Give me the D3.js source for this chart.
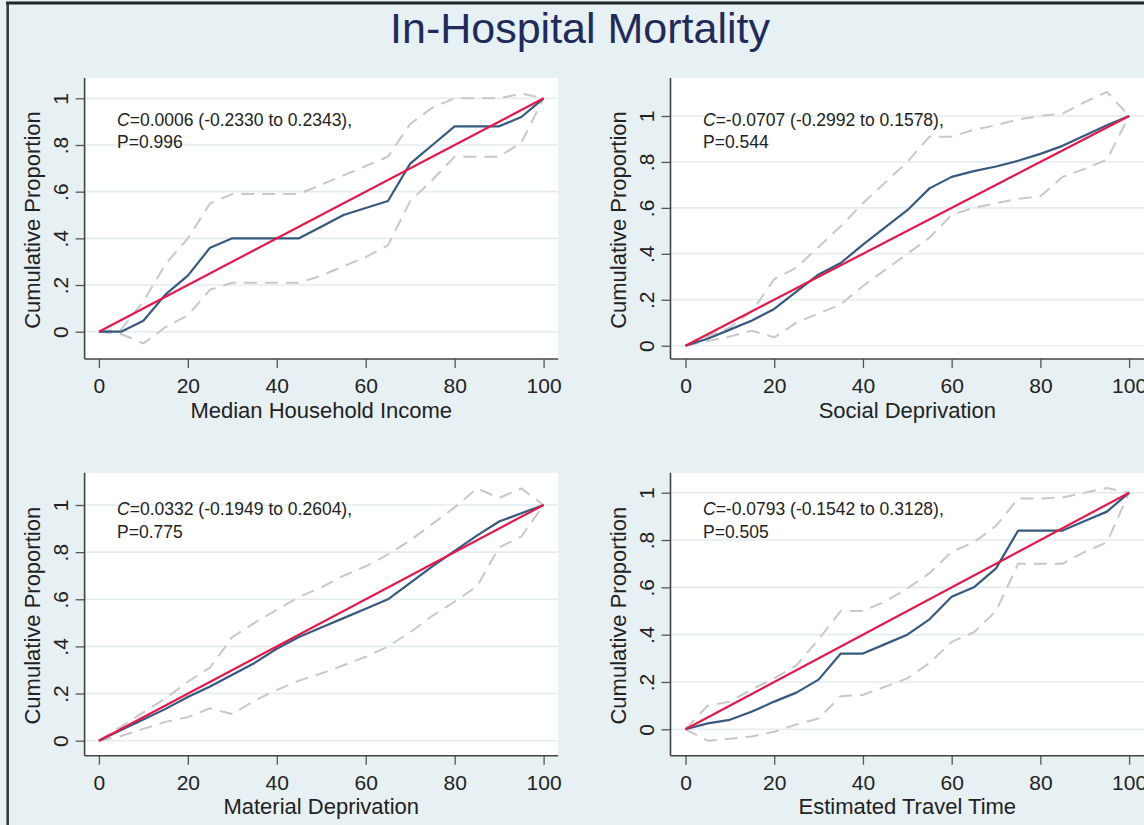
<!DOCTYPE html>
<html>
<head>
<meta charset="utf-8">
<script src="https://cdn.jsdelivr.net/npm/d3@7"></script>
<style>
  html, body { margin: 0; padding: 0; background: #e7f0f2; }
  svg { display: block; font-family: "Liberation Sans", Arial, sans-serif; }
</style>
</head>
<body>
<div id="chart"></div>
<script>
// Percentile points (x axis) shared by all four panels
const xPct = [0, 5, 10, 15, 20, 25, 30, 35, 40, 45, 50, 55, 60, 65, 70, 75, 80, 85, 90, 95, 100];

// Median household income
const incomeObs   = [0, 0, 0.047, 0.16, 0.24, 0.36, 0.40, 0.40, 0.40, 0.40, 0.45, 0.50, 0.53, 0.56, 0.72, 0.80, 0.88, 0.88, 0.88, 0.92, 1.0];
const incomeUpper = [0, 0.01, 0.13, 0.29, 0.40, 0.55, 0.59, 0.59, 0.59, 0.59, 0.63, 0.67, 0.71, 0.75, 0.89, 0.96, 1.0, 1.0, 1.0, 1.02, 1.0];
const incomeLower = [0, -0.01, -0.05, 0.02, 0.07, 0.18, 0.21, 0.21, 0.21, 0.21, 0.24, 0.28, 0.32, 0.37, 0.56, 0.65, 0.75, 0.75, 0.75, 0.81, 1.0];

// Social deprivation
const socialObs   = [0, 0.03, 0.07, 0.11, 0.16, 0.235, 0.31, 0.36, 0.44, 0.515, 0.59, 0.685, 0.735, 0.76, 0.78, 0.805, 0.835, 0.87, 0.915, 0.96, 1.0];
const socialUpper = [0, 0.04, 0.08, 0.15, 0.29, 0.34, 0.43, 0.52, 0.62, 0.71, 0.80, 0.91, 0.91, 0.94, 0.96, 0.985, 1.0, 1.01, 1.06, 1.105, 1.0];
const socialLower = [0, 0.02, 0.04, 0.065, 0.036, 0.10, 0.14, 0.18, 0.26, 0.33, 0.40, 0.47, 0.57, 0.60, 0.62, 0.64, 0.65, 0.735, 0.77, 0.81, 1.0];

// Material deprivation
const materialObs   = [0, 0.045, 0.09, 0.135, 0.185, 0.23, 0.28, 0.33, 0.39, 0.44, 0.48, 0.52, 0.56, 0.60, 0.67, 0.74, 0.805, 0.87, 0.93, 0.965, 1.0];
const materialUpper = [0, 0.06, 0.12, 0.18, 0.25, 0.31, 0.44, 0.50, 0.555, 0.61, 0.65, 0.70, 0.74, 0.79, 0.85, 0.92, 0.99, 1.07, 1.03, 1.07, 1.0];
const materialLower = [0, 0.02, 0.05, 0.08, 0.10, 0.137, 0.113, 0.17, 0.215, 0.255, 0.285, 0.32, 0.356, 0.40, 0.46, 0.53, 0.59, 0.655, 0.82, 0.866, 1.0];

// Estimated travel time
const travelObs   = [0, 0.025, 0.04, 0.075, 0.117, 0.155, 0.21, 0.32, 0.32, 0.36, 0.40, 0.465, 0.56, 0.60, 0.68, 0.84, 0.84, 0.84, 0.88, 0.92, 1.0];
const travelUpper = [0, 0.10, 0.117, 0.17, 0.215, 0.27, 0.38, 0.50, 0.50, 0.54, 0.595, 0.66, 0.75, 0.79, 0.86, 0.975, 0.975, 0.98, 1.0, 1.02, 1.0];
const travelLower = [0, -0.048, -0.04, -0.03, -0.01, 0.02, 0.046, 0.14, 0.145, 0.18, 0.215, 0.28, 0.37, 0.41, 0.50, 0.70, 0.70, 0.70, 0.75, 0.79, 1.0];

// Reference (expected) line
const refX = [0, 100];
const refY = [0, 1];

// Ticks and labels
const xTicks = [0, 20, 40, 60, 80, 100];
const yTicks = [0, 0.2, 0.4, 0.6, 0.8, 1];
const yTickLabels = ["0", ".2", ".4", ".6", ".8", "1"];
const xTitles = ["Median Household Income", "Social Deprivation", "Material Deprivation", "Estimated Travel Time"];
const cStats = ["=0.0006 (-0.2330 to 0.2343),", "=-0.0707 (-0.2992 to 0.1578),", "=0.0332 (-0.1949 to 0.2604),", "=-0.0793 (-0.1542 to 0.3128),"];
const pStats = ["P=0.996", "P=0.544", "P=0.775", "P=0.505"];

const W = 1144, H = 825;

// layout of each panel (plot box + pixel positions of 0/100 and 0/1)
const layouts = [
  { left: 84.6,  top: 78,    right: 558.2, bottom: 359,   x0: 98.9,  x1: 543.6,  y0: 331.7, y1: 98.3,  annY: 47.5 },
  { left: 670.5, top: 78,    right: 1160,  bottom: 359,   x0: 685.5, x1: 1129.1, y0: 345.7, y1: 116,   annY: 47.5 },
  { left: 84.6,  top: 472.7, right: 558.2, bottom: 755.7, x0: 98.9,  x1: 543.6,  y0: 740.7, y1: 505,   annY: 42.3 },
  { left: 670.5, top: 472.7, right: 1160,  bottom: 755.7, x0: 685.5, x1: 1129.1, y0: 729.3, y1: 492.7, annY: 42.3 }
];

const series = [
  [incomeObs, incomeUpper, incomeLower],
  [socialObs, socialUpper, socialLower],
  [materialObs, materialUpper, materialLower],
  [travelObs, travelUpper, travelLower]
];

const svg = d3.select('#chart').append('svg')
  .attr('width', W)
  .attr('height', H);

svg.append('rect').attr('width', W).attr('height', H).attr('fill', '#e7f0f2');

// frame lines (top and left)
svg.append('line').attr('x1', 6).attr('x2', W).attr('y1', 3).attr('y2', 3)
  .attr('stroke', '#222').attr('stroke-width', 3);
svg.append('line').attr('x1', 7.7).attr('x2', 7.7).attr('y1', 2).attr('y2', H)
  .attr('stroke', '#333').attr('stroke-width', 2.5);

svg.append('text')
  .attr('x', 580).attr('y', 43)
  .attr('text-anchor', 'middle')
  .attr('font-size', 43)
  .attr('fill', '#1f2b5b')
  .text('In-Hospital Mortality');

layouts.forEach((L, i) => {
  const g = svg.append('g');
  const x = d3.scaleLinear().domain([0, 100]).range([L.x0, L.x1]);
  const y = d3.scaleLinear().domain([0, 1]).range([L.y0, L.y1]);

  // plot region
  g.append('rect')
    .attr('x', L.left).attr('y', L.top)
    .attr('width', L.right - L.left).attr('height', L.bottom - L.top)
    .attr('fill', '#fff');

  // gridlines
  g.selectAll('.grid').data(yTicks).enter().append('line')
    .attr('x1', L.left).attr('x2', L.right)
    .attr('y1', d => y(d)).attr('y2', d => y(d))
    .attr('stroke', '#e3edf1').attr('stroke-width', 1.6);

  // axes
  const xAxis = g.append('g')
    .attr('transform', `translate(0,${L.bottom})`)
    .call(d3.axisBottom(x).tickValues(xTicks).tickSize(9).tickPadding(10));
  xAxis.select('.domain').remove();
  xAxis.selectAll('line').attr('stroke', '#555').attr('stroke-width', 1.3);
  xAxis.selectAll('text').attr('font-size', 21).attr('fill', '#222')
    .attr('font-family', '"Liberation Sans", Arial, sans-serif');

  const yAxis = g.append('g')
    .attr('transform', `translate(${L.left},0)`)
    .call(d3.axisLeft(y).tickValues(yTicks).tickSize(9)
      .tickFormat((d, k) => yTickLabels[k]));
  yAxis.select('.domain').remove();
  yAxis.selectAll('line').attr('stroke', '#555').attr('stroke-width', 1.3);
  yAxis.selectAll('text')
    .attr('font-size', 21).attr('fill', '#222')
    .attr('font-family', '"Liberation Sans", Arial, sans-serif')
    .attr('x', null).attr('dy', null)
    .attr('text-anchor', 'middle')
    .attr('transform', 'translate(-17,0) rotate(-90)');

  g.append('line')
    .attr('x1', L.left).attr('x2', L.left).attr('y1', L.top).attr('y2', L.bottom)
    .attr('stroke', '#444').attr('stroke-width', 1.6);
  g.append('line')
    .attr('x1', L.left).attr('x2', L.right).attr('y1', L.bottom).attr('y2', L.bottom)
    .attr('stroke', '#444').attr('stroke-width', 1.6);

  // axis titles
  g.append('text')
    .attr('x', (L.x0 + L.x1) / 2).attr('y', L.bottom + 58.5)
    .attr('text-anchor', 'middle').attr('font-size', 22).attr('fill', '#222')
    .text(xTitles[i]);
  g.append('text')
    .attr('transform', `translate(${L.left - 45},${(L.top + L.bottom) / 2 + 1.5}) rotate(-90)`)
    .attr('text-anchor', 'middle').attr('font-size', 22).attr('fill', '#222')
    .text('Cumulative Proportion');

  // lines
  const line = d3.line().x(d => x(d[0])).y(d => y(d[1]));
  const [obs, upper, lower] = series[i];

  [upper, lower].forEach(s => {
    g.append('path')
      .datum(xPct.map((v, k) => [v, s[k]]))
      .attr('d', line)
      .attr('fill', 'none')
      .attr('stroke', '#c6c8c9')
      .attr('stroke-width', 2)
      .attr('stroke-dasharray', '13 8');
  });

  g.append('path')
    .datum(xPct.map((v, k) => [v, obs[k]]))
    .attr('d', line)
    .attr('fill', 'none')
    .attr('stroke', '#37597f')
    .attr('stroke-width', 2.2)
    .attr('stroke-linejoin', 'round');

  g.append('path')
    .datum(refX.map((v, k) => [v, refY[k]]))
    .attr('d', line)
    .attr('fill', 'none')
    .attr('stroke', '#e3194b')
    .attr('stroke-width', 2.2);

  // annotation
  const ann = g.append('text')
    .attr('x', L.left + 32.5).attr('y', L.top + L.annY)
    .attr('font-size', 17.5).attr('fill', '#222');
  ann.append('tspan').attr('font-style', 'italic').text('C');
  ann.append('tspan').text(cStats[i]);
  g.append('text')
    .attr('x', L.left + 32.5).attr('y', L.top + L.annY + 22.5)
    .attr('font-size', 17.5).attr('fill', '#222')
    .text(pStats[i]);
});
</script>
</body>
</html>
